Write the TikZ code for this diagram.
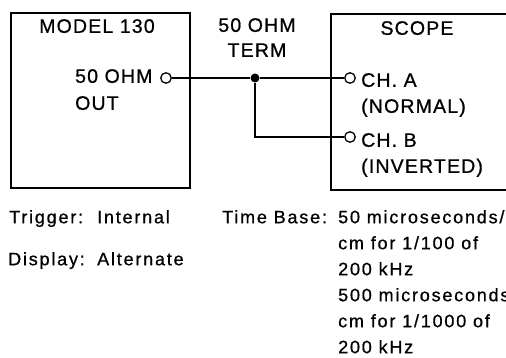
\documentclass[tikz,border=0pt]{standalone}
\usepackage{fontspec}
\setmainfont{Liberation Sans}
\newfontfamily\panelfont{Liberation Sans}[LetterSpace=6, FakeBold=0.8]
\newfontfamily\notefont{Liberation Sans}[LetterSpace=10, FakeBold=0.8]
\usetikzlibrary{positioning}

\begin{document}
\begin{tikzpicture}[x=1pt, y=-1pt,
  wire/.style={line width=1.7pt},
  unit/.style={draw, line width=1.8pt, anchor=north west, inner sep=0pt},
  lbl/.style={inner sep=0pt, align=left, font=\panelfont\fontsize{19.5}{26}\selectfont},
  note/.style={inner sep=0pt, anchor=north west, align=left,
               font=\notefont\fontsize{18}{26}\selectfont},
  jack/.style={circle, draw, line width=1.3pt, fill=white, inner sep=0pt, minimum size=10.5pt},
  junction/.style={circle, fill, inner sep=0pt, minimum size=9pt}
]
\clip (0,0) rectangle (506,358);

% instruments
\node[unit, minimum width=179pt, minimum height=175pt] (model) at (10,12) {};
\node[unit, minimum width=178pt, minimum height=176pt] (scope) at (330,13) {};

\node[lbl, anchor=north] (modelname) at (97,19) {MODEL 130};
\node[lbl, anchor=north west, font=\panelfont\fontsize{19.5}{27}\selectfont] (outname) at (75,69) {50 OHM\\OUT};
\node[lbl, anchor=north, align=center, font=\panelfont\fontsize{19.5}{25}\selectfont] (termname) at (257,18) {50 OHM\\TERM};
\node[lbl, anchor=north] (scopename) at (417,21) {SCOPE};
\node[lbl, anchor=north west] (chaname) at (361,73) {CH. A\\(NORMAL)};
\node[lbl, anchor=north west] (chbname) at (361,133) {CH. B\\(INVERTED)};

% jacks and junction
\node[jack] (outjack) at (166,78) {};
\node[jack] (chajack) at (350,78) {};
\node[jack] (chbjack) at (350,137) {};
\node[junction] (term) at (255,78) {};

\draw[wire] (outjack) -- (term) -- (chajack);
\draw[wire] (term) |- (chbjack);

% settings
\node[note] (trig) at (9,210) {Trigger:};
\node[note] (trigval) at (97,210) {Internal};
\node[note] (disp) at (8,252) {Display:};
\node[note] (dispval) at (97,252) {Alternate};
\node[note] (tbase) at (222,210) {Time Base:};
\node[note] (tbval) at (338,210) {50 microseconds/\\cm for 1/100 of\\200 kHz\\500 microseconds/\\cm for 1/1000 of\\200 kHz};
\end{tikzpicture}
\end{document}
